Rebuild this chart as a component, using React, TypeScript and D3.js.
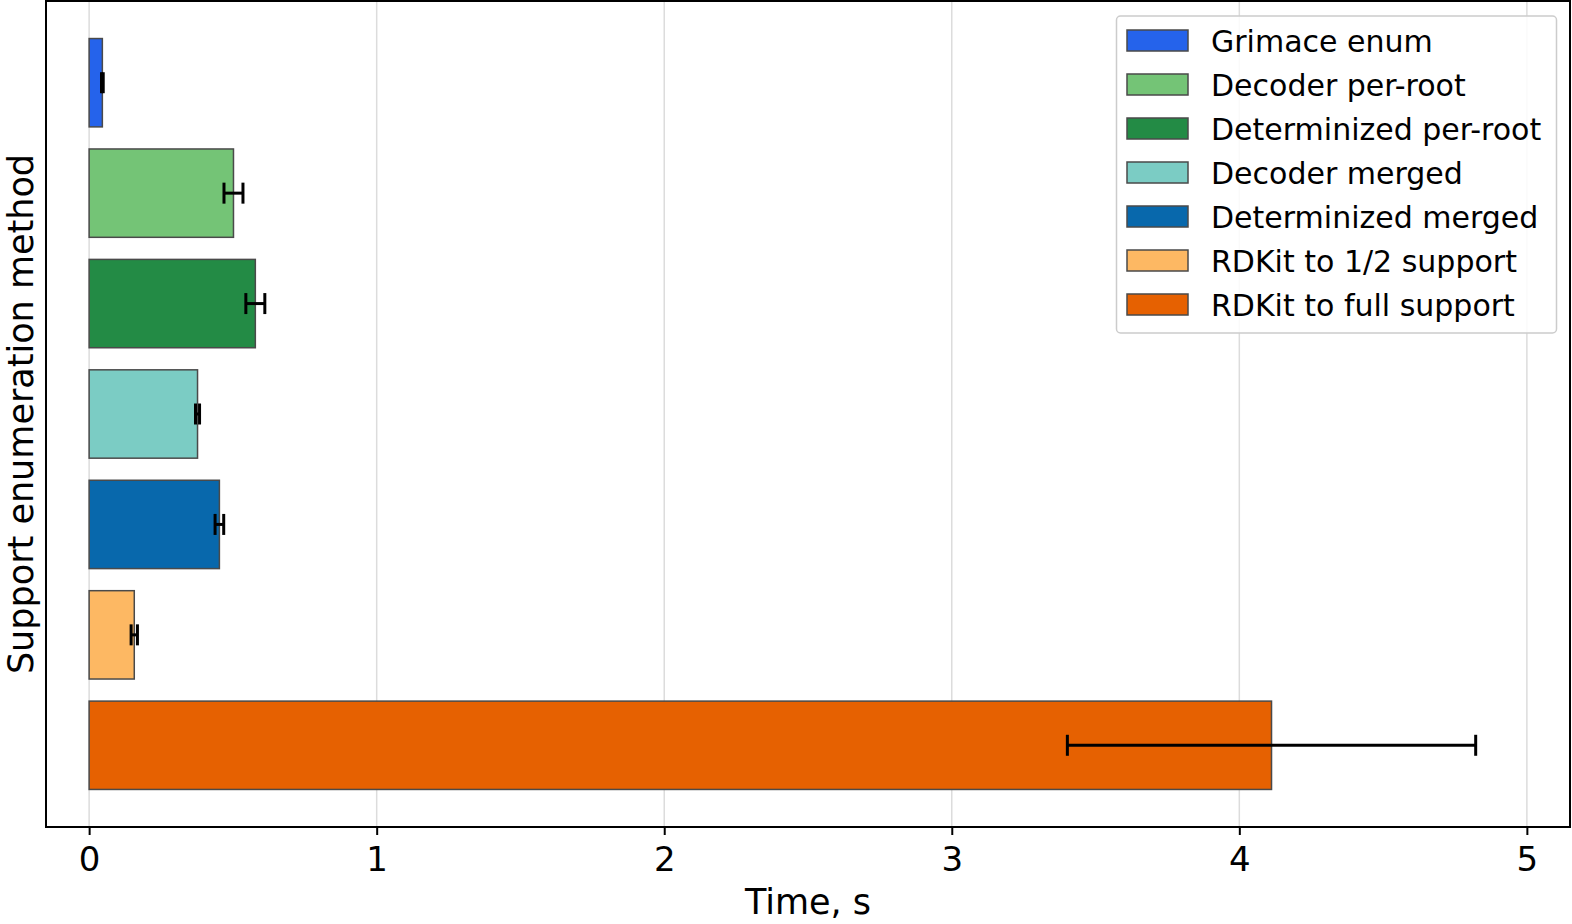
import React, { useEffect, useRef } from 'react';
import * as d3 from 'd3';

const methods = [
  'Grimace enum',
  'Decoder per-root',
  'Determinized per-root',
  'Decoder merged',
  'Determinized merged',
  'RDKit to 1/2 support',
  'RDKit to full support',
];
const meanTimes = [0.046, 0.502, 0.578, 0.377, 0.453, 0.157, 4.112];
const errTimes = [0.003, 0.033, 0.033, 0.007, 0.015, 0.011, 0.71];
const xTicks = [0, 1, 2, 3, 4, 5];

const palette = ['#2563eb', '#74c476', '#238b45', '#7bccc4', '#0868ac', '#fdb863', '#e66101'];

const W = 1572;
const H = 924;
const FONT = 'DejaVu Sans, sans-serif';

const App = () => {
  const ref = useRef<SVGSVGElement>(null);

  useEffect(() => {
    document.body.style.margin = '0';
    const svg = d3.select(ref.current);
    svg.selectAll('*').remove();

    const left = 46, right = 1570, top = 1, bottom = 827;

    const x = d3.scaleLinear().domain([-0.15, 5.15]).range([left, right]);
    const y = d3.scaleLinear().domain([-0.74, 6.74]).range([top, bottom]);
    const barH = y(0.8) - y(0);

    svg.append('rect').attr('width', W).attr('height', H).attr('fill', '#fff');

    // grid
    svg.append('g')
      .selectAll('line')
      .data(xTicks)
      .join('line')
      .attr('x1', d => x(d)).attr('x2', d => x(d))
      .attr('y1', top).attr('y2', bottom)
      .attr('stroke', '#dcdcdc')
      .attr('stroke-width', 1.5);

    // bars
    svg.append('g')
      .selectAll('rect')
      .data(meanTimes)
      .join('rect')
      .attr('x', x(0))
      .attr('y', (d, i) => y(i) - barH / 2)
      .attr('width', d => x(d) - x(0))
      .attr('height', barH)
      .attr('fill', (d, i) => palette[i])
      .attr('stroke', '#4a4a4a')
      .attr('stroke-width', 1.5);

    // error bars
    const cap = 10.5;
    const eb = svg.append('g').attr('stroke', '#000').attr('stroke-width', 3);
    meanTimes.forEach((m, i) => {
      const lo = x(m - errTimes[i]);
      const hi = x(m + errTimes[i]);
      const cy = y(i);
      eb.append('line').attr('x1', lo).attr('x2', hi).attr('y1', cy).attr('y2', cy);
      eb.append('line').attr('x1', lo).attr('x2', lo).attr('y1', cy - cap).attr('y2', cy + cap);
      eb.append('line').attr('x1', hi).attr('x2', hi).attr('y1', cy - cap).attr('y2', cy + cap);
    });

    // frame
    svg.append('rect')
      .attr('x', left).attr('y', top)
      .attr('width', right - left).attr('height', bottom - top)
      .attr('fill', 'none')
      .attr('stroke', '#000')
      .attr('stroke-width', 2);

    // x axis
    const xAxis = d3.axisBottom(x).tickValues(xTicks).tickFormat(d3.format('d')).tickSize(8).tickPadding(12);
    const ax = svg.append('g').attr('transform', `translate(0,${bottom})`).call(xAxis);
    ax.select('.domain').remove();
    ax.selectAll('.tick line').attr('stroke', '#000').attr('stroke-width', 2);
    ax.selectAll('.tick text')
      .attr('fill', '#000')
      .style('font-family', FONT)
      .style('font-size', '34px');

    svg.append('text')
      .attr('x', (left + right) / 2)
      .attr('y', 914)
      .attr('text-anchor', 'middle')
      .style('font-family', FONT)
      .style('font-size', '35px')
      .text('Time, s');

    svg.append('text')
      .attr('transform', `translate(33,${(top + bottom) / 2}) rotate(-90)`)
      .attr('text-anchor', 'middle')
      .style('font-family', FONT)
      .style('font-size', '35px')
      .text('Support enumeration method');

    // legend
    const lg = svg.append('g');
    lg.append('rect')
      .attr('x', 1116.5).attr('y', 16)
      .attr('width', 440).attr('height', 317)
      .attr('rx', 4)
      .attr('fill', '#fff').attr('fill-opacity', 0.85)
      .attr('stroke', '#cccccc').attr('stroke-width', 1.5);
    const rows = lg.selectAll('g.row')
      .data(methods)
      .join('g')
      .attr('class', 'row')
      .attr('transform', (d, i) => `translate(0,${40.5 + i * 44})`);
    rows.append('rect')
      .attr('x', 1127).attr('y', -10.5)
      .attr('width', 61).attr('height', 21)
      .attr('fill', (d, i) => palette[i])
      .attr('stroke', '#4a4a4a')
      .attr('stroke-width', 1.5);
    rows.append('text')
      .attr('x', 1211)
      .attr('y', 11)
      .style('font-family', FONT)
      .style('font-size', '30px')
      .text(d => d);
  }, []);

  return <svg ref={ref} width={W} height={H} style={{ display: 'block' }} />;
};

export default App;
